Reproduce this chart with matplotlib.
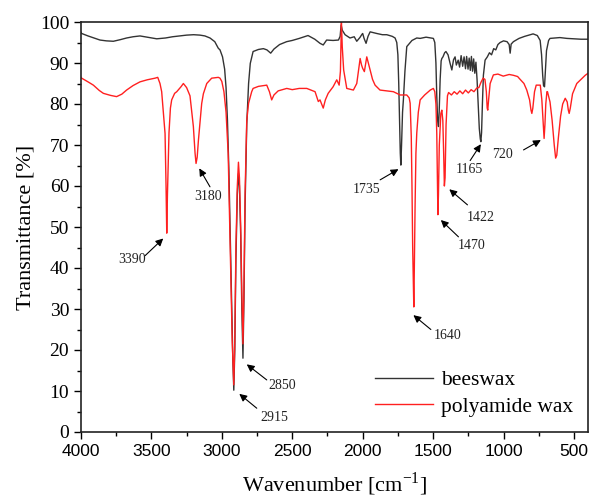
import matplotlib
matplotlib.use("Agg")
import matplotlib.pyplot as plt

# ---------------- data ----------------
beeswax_wn = [4000, 3995, 3950, 3900, 3865, 3820, 3770, 3720, 3676, 3630, 3581, 3530, 3462, 3400, 3350,
              3297, 3250, 3200, 3155, 3120, 3084, 3050, 3025, 3013, 2995, 2980, 2970, 2960, 2950, 2940,
              2930, 2922, 2915, 2908, 2900, 2890, 2882, 2875, 2866, 2858, 2850, 2843, 2835, 2823, 2810,
              2798, 2778, 2740, 2705, 2680, 2653, 2630, 2590, 2540, 2500, 2450, 2388, 2340, 2303, 2280,
              2256, 2210, 2172, 2160, 2153, 2145, 2125, 2090, 2060, 2042, 2020, 2005, 2000, 1990, 1976,
              1962, 1947, 1900, 1860, 1829, 1790, 1770, 1758, 1750, 1744, 1739, 1733, 1729, 1724, 1717,
              1711, 1700, 1687, 1675, 1650, 1616, 1592, 1550, 1498, 1488, 1480, 1474, 1468, 1462, 1457,
              1450, 1443, 1438, 1430, 1418, 1409, 1394, 1380, 1367, 1355, 1344, 1335, 1322, 1312, 1301,
              1290, 1280, 1270, 1262, 1252, 1244, 1236, 1228, 1220, 1212, 1204, 1196, 1188, 1180, 1172,
              1165, 1161, 1156, 1150, 1143, 1131, 1115, 1100, 1085, 1070, 1055, 1040, 1024, 1000, 975,
              960, 953, 946, 930, 890, 850, 790, 760, 740, 730, 722, 716, 709, 703, 695,
              680, 670, 600, 550, 500, 450, 400]
beeswax_T = [97.5, 97.2, 96.6, 96.0, 95.6, 95.4, 95.3, 95.7, 96.1, 96.4, 96.6, 96.3, 95.9, 96.1, 96.4,
             96.6, 96.8, 96.9, 96.8, 96.6, 96.1, 95.2, 93.6, 93.2, 91.5, 88.5, 84.0, 76.0, 64.0, 48.0,
             32.0, 18.0, 10.2, 20.0, 42.0, 58.0, 63.0, 60.0, 48.0, 30.0, 18.0, 32.0, 55.0, 75.0, 85.0,
             89.9, 92.8, 93.3, 93.5, 93.2, 92.4, 93.4, 94.5, 95.2, 95.5, 96.0, 96.7, 95.8, 94.8, 94.4,
             95.6, 95.5, 95.6, 96.5, 99.3, 98.0, 96.9, 96.1, 96.4, 95.3, 96.2, 97.0, 97.2, 96.0, 94.8,
             96.5, 97.6, 97.2, 96.9, 96.9, 96.5, 96.1, 95.0, 92.0, 85.0, 76.9, 68.0, 65.1, 70.0, 78.0,
             81.0, 88.0, 94.0, 94.5, 95.5, 96.1, 96.0, 96.3, 96.0, 95.0, 90.0, 82.0, 76.0, 74.5, 78.0,
             86.0, 90.5, 91.1, 91.5, 92.5, 92.8, 92.0, 90.0, 88.3, 90.8, 91.5, 89.5, 90.7, 89.0, 91.8,
             89.2, 91.5, 88.6, 91.6, 88.5, 91.2, 88.2, 91.6, 88.0, 91.0, 87.5, 90.2, 86.0, 80.0, 74.0,
             71.5, 70.8, 73.0, 80.0, 87.0, 90.7, 91.5, 92.5, 92.0, 93.5, 93.2, 94.5, 95.0, 95.4, 95.2,
             94.5, 92.4, 94.6, 95.2, 96.0, 96.5, 97.1, 96.7, 95.5, 92.0, 87.0, 84.5, 84.2, 88.0, 93.0,
             95.5, 96.0, 96.2, 96.0, 95.9, 95.8, 95.8]

polyamide_wn = [4000, 3995, 3950, 3912, 3870, 3841, 3790, 3747, 3710, 3676, 3630, 3581, 3530, 3474, 3455,
                3439, 3427, 3415, 3403, 3396, 3391, 3386, 3375, 3365, 3356, 3335, 3320, 3290, 3273, 3250,
                3226, 3202, 3190, 3183, 3175, 3166, 3143, 3131, 3107, 3072, 3025, 3013, 3000, 2985, 2970,
                2955, 2945, 2935, 2926, 2915, 2908, 2900, 2890, 2882, 2875, 2866, 2858, 2850, 2843, 2835,
                2823, 2810, 2788, 2778, 2740, 2681, 2662, 2646, 2630, 2600, 2539, 2500, 2450, 2397, 2338,
                2315, 2303, 2280, 2265, 2245, 2210, 2184, 2167, 2158, 2151, 2145, 2135, 2113, 2066, 2042,
                2030, 2018, 2008, 2000, 1988, 1978, 1971, 1960, 1947, 1930, 1912, 1877, 1830, 1782, 1734,
                1687, 1670, 1663, 1655, 1650, 1645, 1640, 1637, 1634, 1628, 1622, 1616, 1605, 1592, 1560,
                1520, 1498, 1488, 1480, 1474, 1470, 1466, 1462, 1456, 1445, 1438, 1431, 1425, 1420, 1415,
                1408, 1398, 1390, 1370, 1350, 1330, 1310, 1290, 1270, 1250, 1230, 1210, 1190, 1175, 1160,
                1145, 1132, 1122, 1116, 1112, 1106, 1095, 1072, 1040, 1002, 960, 930, 900, 882, 855,
                835, 815, 805, 799, 792, 780, 768, 739, 728, 718, 712, 706, 700, 692, 688,
                670, 655, 640, 630, 622, 610, 595, 580, 562, 548, 540, 534, 526, 510, 480,
                450, 420, 400]
polyamide_T = [86.5, 86.3, 85.4, 84.6, 83.3, 82.6, 82.1, 81.8, 82.4, 83.4, 84.5, 85.4, 85.9, 86.3, 86.5,
               85.0, 83.0, 78.0, 72.8, 60.0, 48.5, 58.0, 73.0, 79.0, 81.0, 82.6, 83.0, 84.2, 85.0, 84.0,
               82.0, 74.5, 68.0, 65.5, 67.0, 71.2, 80.1, 82.5, 85.0, 86.3, 86.5, 86.3, 85.5, 83.0, 78.0,
               68.0, 52.0, 36.0, 22.0, 11.5, 22.0, 45.0, 60.0, 65.8, 62.0, 50.0, 34.0, 21.5, 35.0, 58.0,
               76.0, 80.2, 83.0, 83.8, 84.3, 84.6, 83.0, 81.0, 82.2, 83.2, 83.8, 83.5, 83.8, 83.8, 83.0,
               80.6, 81.0, 79.0, 81.0, 82.6, 84.2, 85.9, 84.6, 88.0, 100.0, 94.0, 88.3, 83.8, 83.4, 85.0,
               88.0, 91.1, 89.5, 88.7, 87.9, 90.0, 91.5, 90.0, 88.3, 86.0, 84.6, 83.4, 83.2, 83.0, 82.2,
               82.2, 81.5, 80.2, 72.0, 60.0, 45.0, 35.0, 30.5, 38.0, 55.0, 68.0, 72.9, 78.0, 81.0, 82.2,
               83.4, 83.8, 83.0, 80.0, 72.9, 62.0, 53.0, 58.0, 70.0, 77.7, 78.5, 76.0, 68.0, 60.0, 62.0,
               75.0, 82.0, 82.8, 82.2, 83.0, 82.4, 83.2, 82.5, 83.4, 82.7, 83.5, 83.0, 83.9, 84.0, 85.3,
               86.3, 86.0, 83.0, 79.0, 78.5, 81.0, 85.0, 87.1, 87.3, 86.8, 87.2, 87.0, 86.7, 86.0, 85.0,
               83.4, 81.0, 78.5, 77.7, 79.0, 83.0, 84.6, 84.6, 81.0, 75.0, 71.6, 75.0, 80.0, 83.0, 83.0,
               80.5, 76.0, 70.0, 66.8, 67.5, 72.0, 77.0, 80.0, 81.4, 80.5, 78.5, 77.7, 79.0, 82.5, 85.0,
               86.0, 87.0, 87.5]

series_names = ["beeswax", "polyamide wax"]
peak_labels = ["3390", "3180", "2915", "2850", "1735", "1640", "1470", "1422", "1165", "720"]

# ---------------- layout of annotations (text centre, arrow tail, arrow head) ----------------
ann_text = [(3640, 42.0), (3096, 57.4), (2628, 3.5), (2572, 11.3), (1976, 59.2),
            (1398, 23.5), (1225, 45.6), (1164, 52.4), (1243, 64.1), (1007, 67.6)]
ann_tail = [(3545, 43.0), (3084, 59.8), (2752, 5.8), (2681, 12.7), (1876, 61.5),
            (1516, 25.0), (1320, 47.6), (1256, 55.4), (1237, 66.2), (858, 68.8)]
ann_head = [(3416, 47.2), (3160, 64.3), (2876, 9.3), (2823, 16.5), (1746, 64.1),
            (1640, 28.5), (1445, 51.7), (1385, 59.2), (1161, 70.2), (735, 71.2)]

SERIF = ["Liberation Serif", "DejaVu Serif"]
SANS = ["Liberation Sans", "DejaVu Sans"]
plt.rcParams["mathtext.fontset"] = "custom"
plt.rcParams["mathtext.rm"] = "Liberation Serif"

fig = plt.figure(figsize=(5.91, 5.0), dpi=100)
ax = fig.add_axes([0.137, 0.136, 0.858, 0.820])

ax.plot(beeswax_wn, beeswax_T, color="#333333", lw=1.0, label=series_names[0])
ax.plot(polyamide_wn, polyamide_T, color="#ff2020", lw=1.0, label=series_names[1])

ax.set_xlim(4000, 400)
ax.set_ylim(0, 100)
ax.set_xticks([4000, 3500, 3000, 2500, 2000, 1500, 1000, 500])
ax.set_xticks(range(3750, 400, -500), minor=True)
ax.set_yticks(range(0, 101, 10))
ax.set_yticks(range(5, 100, 10), minor=True)
ax.tick_params(which="major", direction="out", length=5, width=1.0, top=False, right=False)
ax.tick_params(which="minor", direction="out", length=3, width=1.0, top=False, right=False)
for s in ax.spines.values():
    s.set_linewidth(1.2)
    s.set_color("#222222")

for lab in ax.get_xticklabels():
    lab.set_fontfamily(SANS)
    lab.set_fontsize(12.5)
for lab in ax.get_yticklabels():
    lab.set_fontfamily(SERIF)
    lab.set_fontsize(14)

ax.set_xlabel("Wavenumber [cm$^{\\mathregular{-1}}$]", fontsize=16, family=SERIF, labelpad=8)
ax.set_ylabel("Transmittance [%]", fontsize=16, family=SERIF, labelpad=3)

for lab, t, tl, hd in zip(peak_labels, ann_text, ann_tail, ann_head):
    ax.annotate("", xy=hd, xytext=tl,
                arrowprops=dict(arrowstyle="-|>", color="black", lw=0.8,
                                mutation_scale=11, shrinkA=0, shrinkB=0))
    ax.text(t[0], t[1], lab, ha="center", va="center", fontsize=10, family=SERIF, color="#222222")

leg = ax.legend(loc="lower right", bbox_to_anchor=(1.0, 0.0), frameon=False,
                prop={"family": SERIF, "size": 15.5}, handlelength=2.7, handletextpad=0.35,
                labelspacing=0.3, borderaxespad=0.3)

fig.savefig("out.png", dpi=100)
